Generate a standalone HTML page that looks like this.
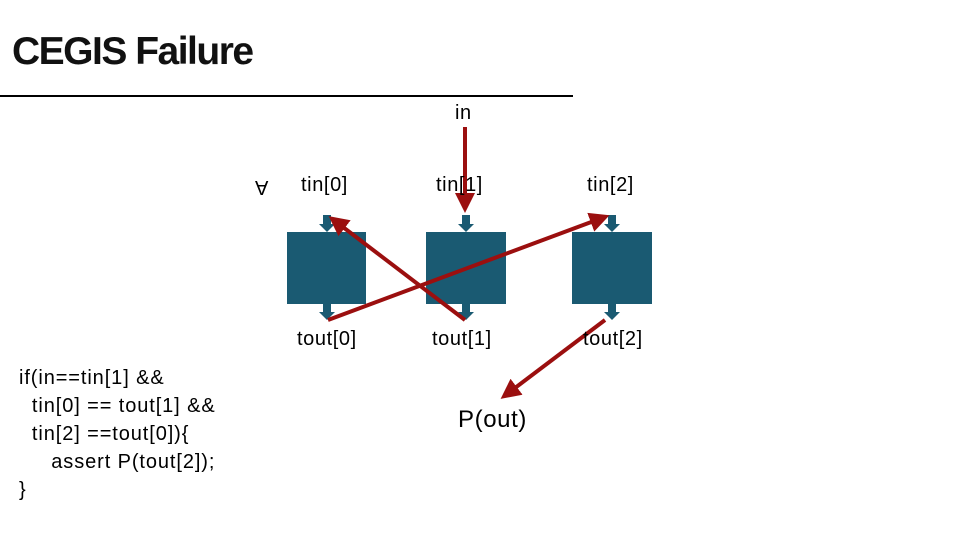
<!DOCTYPE html>
<html><head><style>
body{margin:0;width:960px;height:540px;background:#fff;position:relative;overflow:hidden;font-family:"Liberation Sans",sans-serif;color:#000}
.t{position:absolute;white-space:pre;font-size:20px;letter-spacing:0.6px}
</style></head><body>
<div class="t" style="left:12px;top:30px;font-size:39px;font-weight:bold;letter-spacing:-1.5px;color:#111">CEGIS Failure</div>
<div style="position:absolute;left:0;top:95px;width:573px;height:2px;background:#000"></div>
<svg width="960" height="540" style="position:absolute;left:0;top:0">
<defs>
<marker id="a" markerWidth="5" markerHeight="5" refX="3" refY="2.5" orient="auto"><path d="M0,0 L5,2.5 L0,5z" fill="#9b0f0f"/></marker>
</defs>
<g fill="#1a5a72">
<rect x="287" y="232" width="79" height="72"/>
<rect x="426" y="232" width="80" height="72"/>
<rect x="572" y="232" width="80" height="72"/>
<g id="s"><rect x="323" y="215" width="8" height="11"/><path d="M319,224 L335,224 L327,232z"/><rect x="323" y="304" width="8" height="10"/><path d="M319,312 L335,312 L327,320z"/></g>
<use href="#s" x="139"/><use href="#s" x="285"/>
</g>
<g stroke="#9b0f0f" stroke-width="4" fill="none">
<line x1="465" y1="127" x2="465" y2="205" marker-end="url(#a)"/>
<line x1="465" y1="320" x2="335" y2="221" marker-end="url(#a)"/>
<line x1="328" y1="320" x2="602" y2="218" marker-end="url(#a)"/>
<line x1="605" y1="320" x2="507" y2="394" marker-end="url(#a)"/>
</g>
</svg>
<div class="t" style="left:455px;top:102px">in</div>
<div class="t" style="left:255px;top:175px;transform:scaleY(-1)">A</div>
<div class="t" style="left:301px;top:174px">tin[0]</div>
<div class="t" style="left:436px;top:174px">tin[1]</div>
<div class="t" style="left:587px;top:174px">tin[2]</div>
<div class="t" style="left:297px;top:328px">tout[0]</div>
<div class="t" style="left:432px;top:328px">tout[1]</div>
<div class="t" style="left:583px;top:328px">tout[2]</div>
<div class="t" style="left:458px;top:406px;font-size:24px">P(out)</div>
<div class="t" style="left:19px;top:364px;font-size:20px;letter-spacing:0.9px;line-height:28px">if(in==tin[1] &amp;&amp;
  tin[0] == tout[1] &amp;&amp;
  tin[2] ==tout[0]){
     assert P(tout[2]);
}</div>
</body></html>
